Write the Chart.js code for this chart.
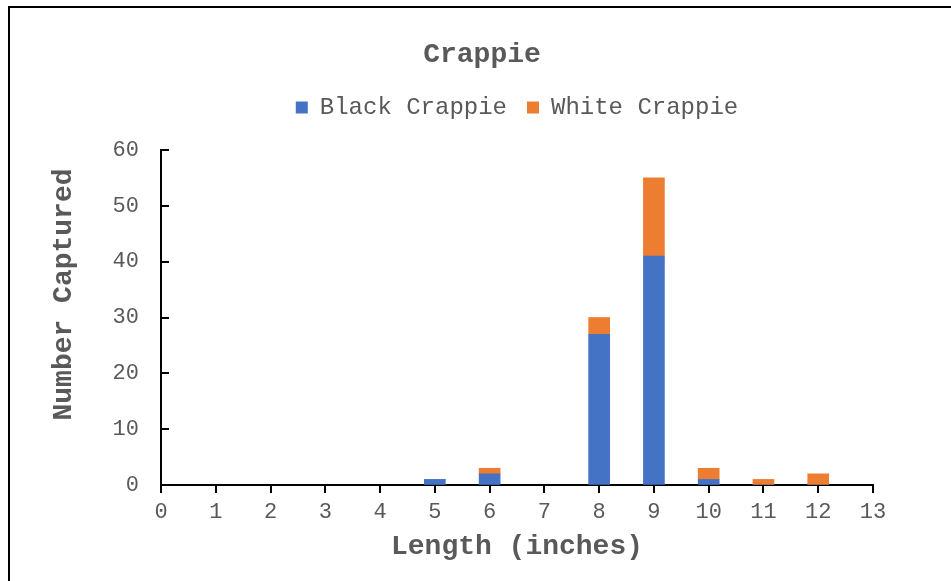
<!DOCTYPE html>
<html>
<head>
<meta charset="utf-8">
<script src="https://cdn.jsdelivr.net/npm/chart.js@4/dist/chart.umd.min.js"></script>
<style>
  html, body { margin: 0; padding: 0; background: #fff; }
  #wrap { position: relative; width: 951px; height: 581px; overflow: hidden; }
  #frame { position: absolute; left: 8px; top: 6px; right: -4px; bottom: -4px;
           border-left: 2px solid #000; border-top: 2px solid #000; pointer-events: none; }
  canvas { display: block; }
</style>
</head>
<body>
<div id="wrap">
  <canvas id="c" width="951" height="581"></canvas>
  <div id="frame"></div>
</div>
<script>
// ---- data ----
const chartTitle = 'Crappie';
const xAxisTitle = 'Length (inches)';
const yAxisTitle = 'Number Captured';
const seriesNames = ['Black Crappie', 'White Crappie'];
const lengths = [5, 6, 8, 9, 10, 11, 12];
const blackCrappie = [1, 2, 27, 41, 1, 0, 0];
const whiteCrappie = [0, 1, 3, 14, 2, 1, 2];
const xTicks = [0, 13, 1];   // min, max, step
const yTicks = [0, 60, 10];  // min, max, step

const FONT = "'Liberation Mono', 'Courier New', monospace";
const GREY = '#595959';

const toPoints = vals => lengths.map((l, i) => ({ x: l, y: vals[i] }));

const yExtras = {
  id: 'yExtras',
  afterDraw(chart) {
    const ys = chart.scales.y;
    const ctx = chart.ctx;
    ctx.save();
    ctx.strokeStyle = '#000';
    ctx.lineWidth = 2;
    ys.ticks.forEach(t => {
      const py = Math.round(ys.getPixelForValue(t.value));
      ctx.beginPath();
      ctx.moveTo(ys.right, py);
      ctx.lineTo(ys.right + 8, py);
      ctx.stroke();
    });
    ctx.restore();
    // y axis title
    const ca = chart.chartArea;
    ctx.save();
    ctx.translate(64, (ca.top + ca.bottom) / 2 - 23);
    ctx.rotate(-Math.PI / 2);
    ctx.font = "bold 28px " + FONT;
    ctx.fillStyle = GREY;
    ctx.textAlign = 'center';
    ctx.textBaseline = 'middle';
    ctx.fillText(yAxisTitle, 0, 0);
    ctx.restore();
  }
};

new Chart(document.getElementById('c'), {
  type: 'bar',
  data: {
    datasets: [
      { label: seriesNames[0], data: toPoints(blackCrappie), backgroundColor: '#4472C4', borderWidth: 0 },
      { label: seriesNames[1], data: toPoints(whiteCrappie), backgroundColor: '#ED7D31', borderWidth: 0 }
    ]
  },
  options: {
    responsive: false,
    animation: false,
    devicePixelRatio: 1,
    barThickness: 21,
    layout: { padding: { left: 91, right: 78, top: 0, bottom: 0 } },
    plugins: {
      title: {
        display: true, text: chartTitle, color: GREY,
        font: { family: FONT, size: 28, weight: 'bold', lineHeight: 1.2 },
        padding: { top: 38, bottom: 4 }
      },
      subtitle: {
        display: true, text: '', weight: 500, fullSize: false,
        font: { family: FONT, size: 17, lineHeight: 1.2 },
        padding: 0
      },
      legend: {
        display: true, position: 'top', fullSize: false,
        labels: {
          color: GREY, boxWidth: 12, boxHeight: 12, padding: 20,
          font: { family: FONT, size: 24 }
        }
      },
      tooltip: { enabled: false }
    },
    scales: {
      x: {
        type: 'linear', stacked: true, offset: false,
        min: xTicks[0], max: xTicks[1],
        ticks: { stepSize: xTicks[2], color: GREY, padding: 6, font: { family: FONT, size: 22 } },
        grid: { display: true, drawOnChartArea: false, offset: false, color: '#000', lineWidth: 2, tickLength: 8 },
        border: { display: true, color: '#000', width: 2 },
        title: { display: true, text: xAxisTitle, color: GREY,
                 font: { family: FONT, size: 28, weight: 'bold', lineHeight: 1.2 },
                 padding: { top: 0, bottom: 17 } },
        afterFit(s) { s.height = 96; }
      },
      y: {
        type: 'linear', stacked: true,
        min: yTicks[0], max: yTicks[1],
        ticks: { stepSize: yTicks[2], color: GREY, padding: 22, font: { family: FONT, size: 22 } },
        grid: { display: true, drawOnChartArea: false, drawTicks: false },
        border: { display: true, color: '#000', width: 2 },
        afterFit(s) { s.width = 70; }
      }
    }
  },
  plugins: [yExtras]
});
</script>
</body>
</html>
